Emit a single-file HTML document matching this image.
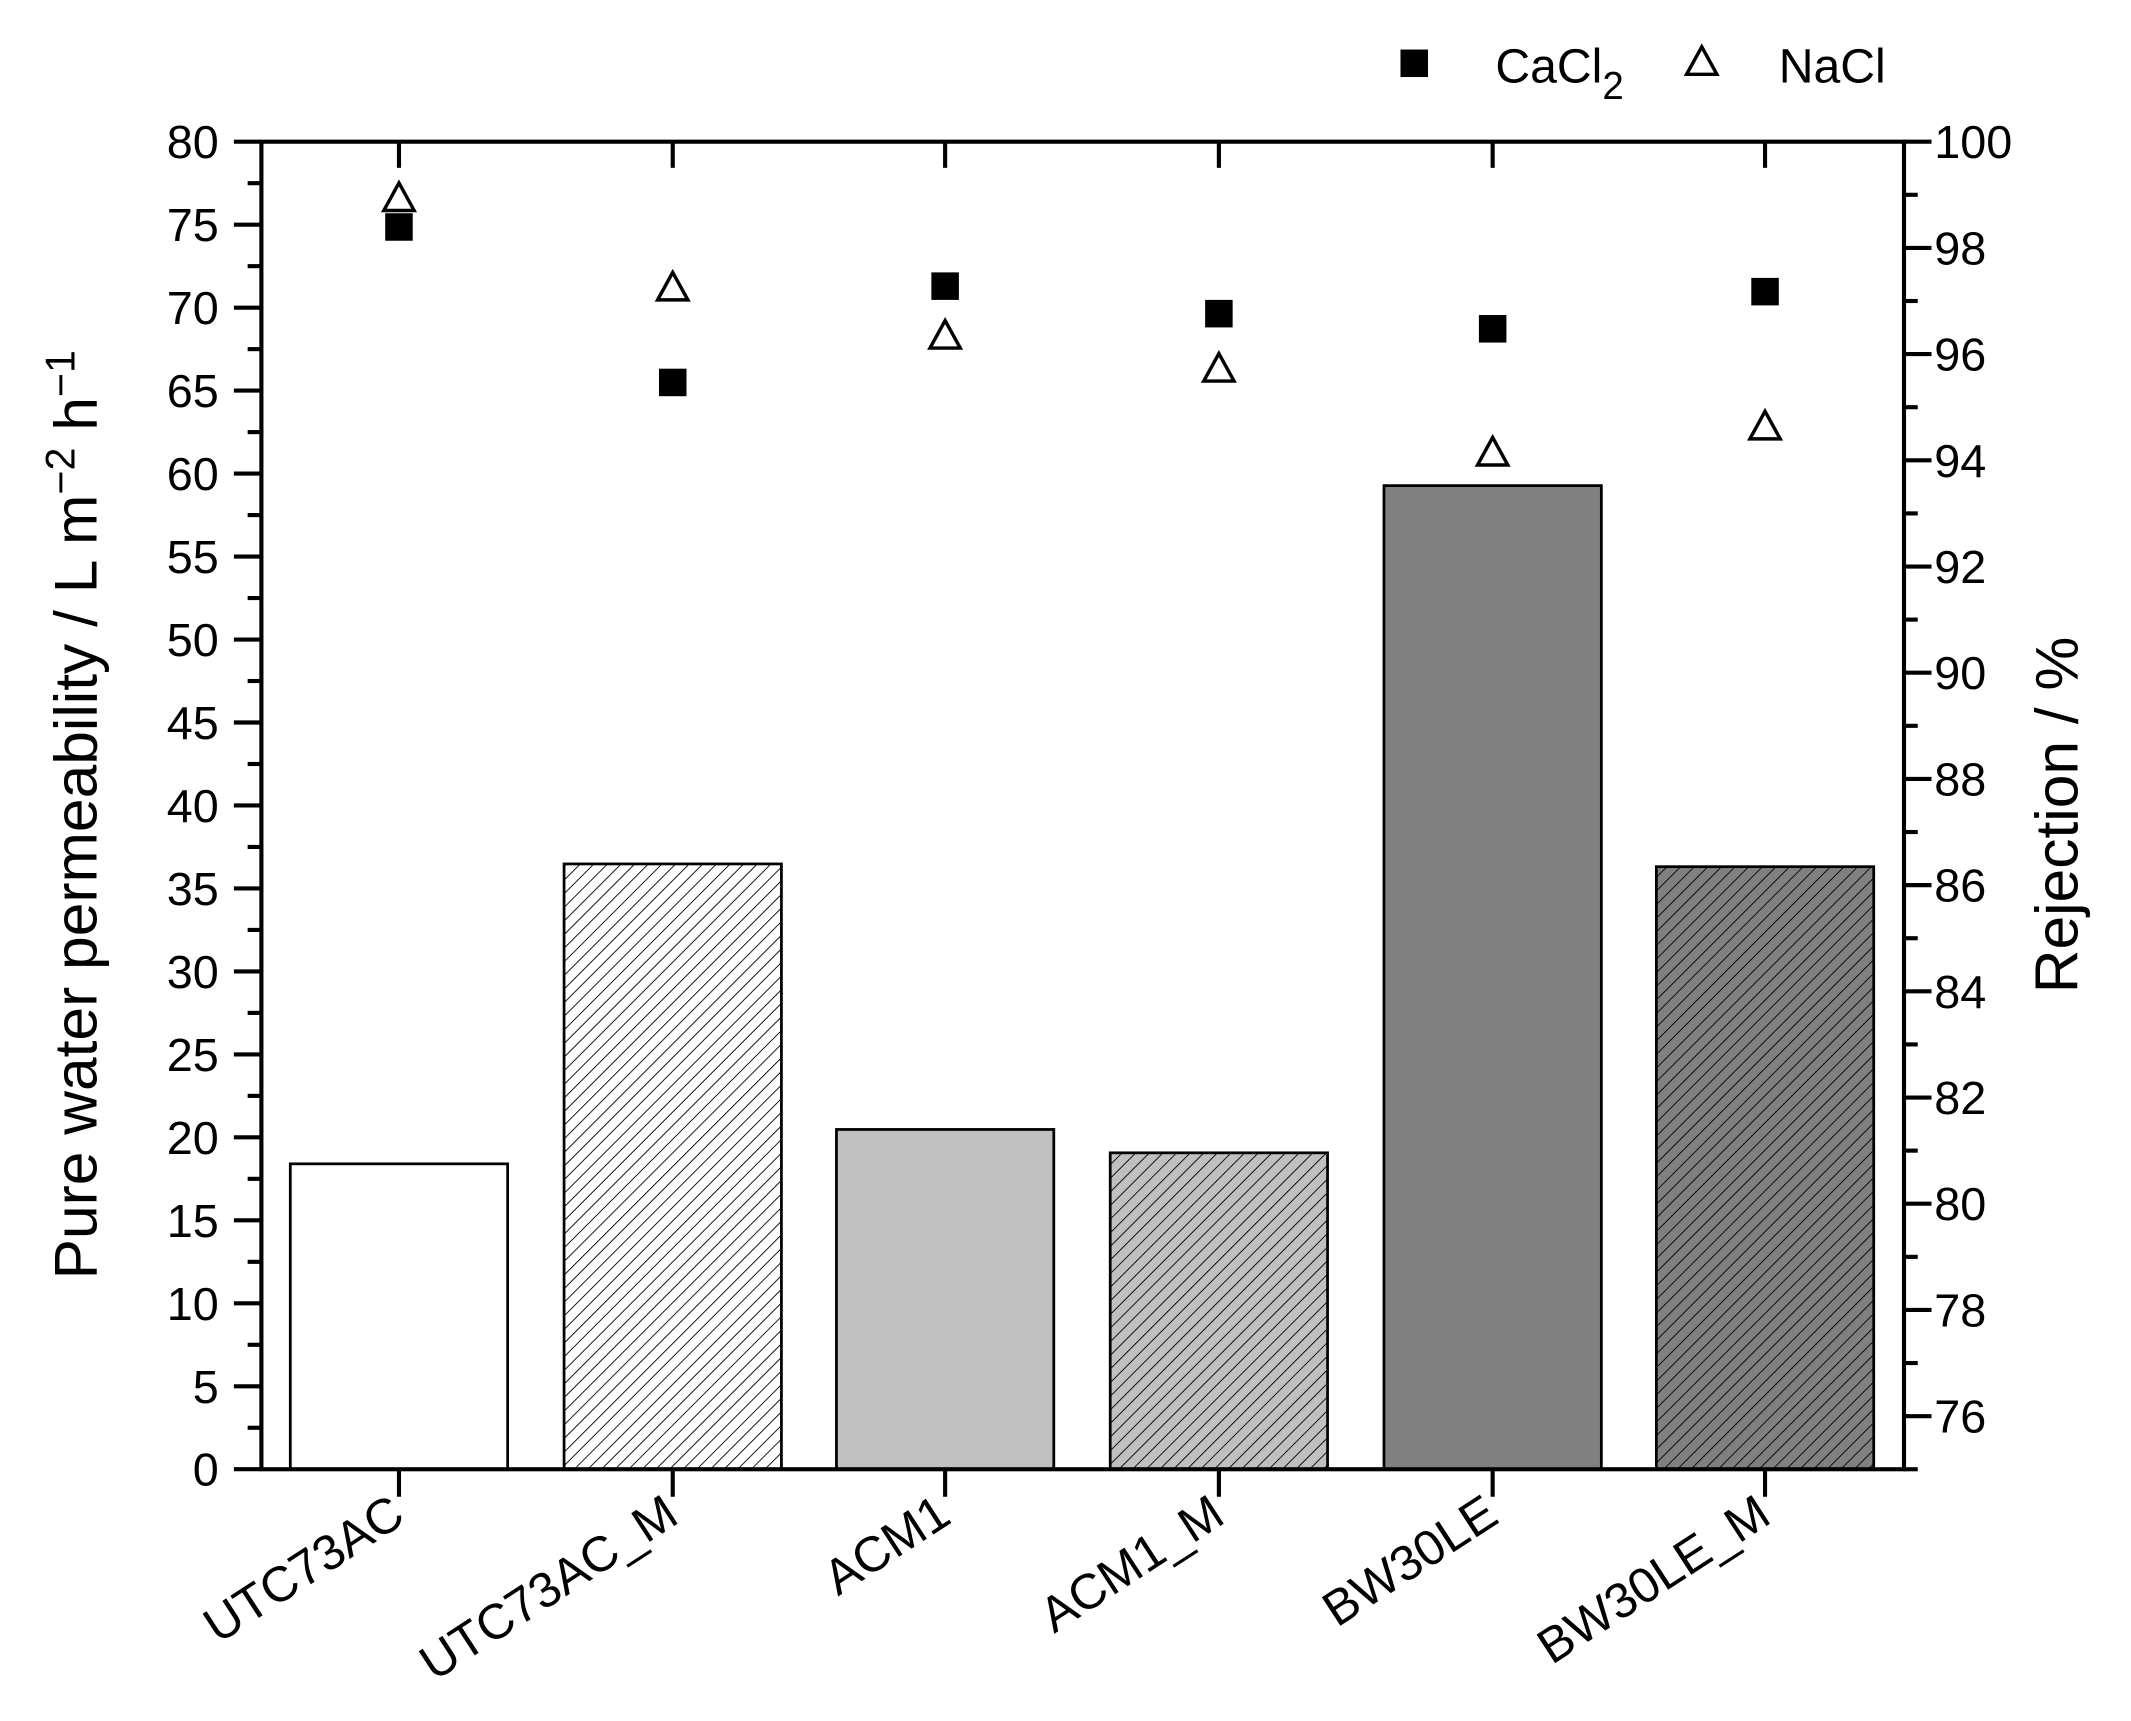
<!DOCTYPE html>
<html><head><meta charset="utf-8"><style>html,body{margin:0;padding:0;background:#fff}svg{display:block}</style></head>
<body>
<svg width="2131" height="1721" viewBox="0 0 1549 1251" xmlns="http://www.w3.org/2000/svg" font-family="Liberation Sans, Arial, sans-serif">
<defs>
<pattern id="h1" patternUnits="userSpaceOnUse" width="7" height="7" patternTransform="rotate(45)"><rect width="7" height="7" fill="#fff"/><line x1="0" y1="0" x2="0" y2="7" stroke="#000" stroke-width="1.3"/></pattern>
<pattern id="h2" patternUnits="userSpaceOnUse" width="7" height="7" patternTransform="rotate(45)"><rect width="7" height="7" fill="#c0c0c0"/><line x1="0" y1="0" x2="0" y2="7" stroke="#000" stroke-width="1.3"/></pattern>
<pattern id="h3" patternUnits="userSpaceOnUse" width="7" height="7" patternTransform="rotate(45)"><rect width="7" height="7" fill="#808080"/><line x1="0" y1="0" x2="0" y2="7" stroke="#000" stroke-width="1.3"/></pattern>
</defs>
<g stroke="#000" stroke-width="2">
<rect x="211" y="846" width="158" height="222" fill="#fff"/>
<rect x="410" y="628" width="158" height="440" fill="url(#h1)"/>
<rect x="608" y="821" width="158" height="247" fill="#c0c0c0"/>
<rect x="807" y="838" width="158" height="230" fill="url(#h2)"/>
<rect x="1006" y="353" width="158" height="715" fill="#808080"/>
<rect x="1204" y="630" width="158" height="438" fill="url(#h3)"/>
</g>
<g stroke="#000" stroke-width="3" fill="none">
<rect x="190" y="103" width="1194" height="965"/>
</g>
<g id="ticks" stroke="#000" stroke-width="3"></g>
<g id="labels" font-size="34" fill="#000"></g>
<g fill="#000">
<rect x="280" y="155" width="20" height="20"/><rect x="479" y="268" width="20" height="20"/><rect x="677" y="198" width="20" height="20"/><rect x="876" y="218" width="20" height="20"/><rect x="1075" y="229" width="20" height="20"/><rect x="1273" y="202" width="20" height="20"/>
</g>
<g fill="#fff" stroke="#000" stroke-width="2.5">
<polygon points="290,133 279,153 301,153"/><polygon points="489,198 478,218 500,218"/><polygon points="687,233 676,253 698,253"/><polygon points="886,257 875,277 897,277"/><polygon points="1085,318 1074,338 1096,338"/><polygon points="1283,299 1272,319 1294,319"/>
</g>
<rect x="1018" y="36" width="20" height="20" fill="#000"/>
<text x="1087" y="60" font-size="35">CaCl<tspan font-size="28" dy="12">2</tspan></text>
<polygon points="1237,34 1226,54 1248,54" fill="#fff" stroke="#000" stroke-width="2.5"/>
<text x="1293" y="60" font-size="35">NaCl</text>
<text transform="translate(70,930) rotate(-90)" font-size="44">Pure water permeability / L m<tspan font-size="30" dy="-16">−2</tspan><tspan dy="16"> h</tspan><tspan font-size="30" dy="-16">−1</tspan></text>
<text transform="translate(1510,722) rotate(-90)" font-size="44">Rejection / %</text>
<g font-size="36">
<text transform="translate(296,1106) rotate(-33)" text-anchor="end">UTC73AC</text>
<text transform="translate(495,1106) rotate(-33)" text-anchor="end">UTC73AC_M</text>
<text transform="translate(693,1106) rotate(-33)" text-anchor="end">ACM1</text>
<text transform="translate(892,1106) rotate(-33)" text-anchor="end">ACM1_M</text>
<text transform="translate(1091,1106) rotate(-33)" text-anchor="end">BW30LE</text>
<text transform="translate(1289,1106) rotate(-33)" text-anchor="end">BW30LE_M</text>
</g>
<script>
var t=document.getElementById('ticks'),l=document.getElementById('labels'),ns='http://www.w3.org/2000/svg';
function ln(a,b,c,d){var e=document.createElementNS(ns,'line');e.setAttribute('x1',a);e.setAttribute('y1',b);e.setAttribute('x2',c);e.setAttribute('y2',d);t.appendChild(e);}
function tx(x,y,s,a){var e=document.createElementNS(ns,'text');e.setAttribute('x',x);e.setAttribute('y',y);e.setAttribute('text-anchor',a);e.textContent=s;l.appendChild(e);}
for(var v=0;v<=80;v+=2.5){var y=1068-v*965/80;if(v%5==0){ln(170,y,190,y);tx(159,y+12,v,'end');}else ln(180,y,190,y);}
for(var r=75;r<=100;r+=1){var y=1068-(r-75)*38.6;if(r%2==0){ln(1384,y,1404,y);tx(1406,y+12,r,'start');}else ln(1384,y,1394,y);}
[290,489,687,886,1085,1283].forEach(function(x){ln(x,1068,x,1088);ln(x,103,x,122);});
</script>
</svg>
</body></html>
